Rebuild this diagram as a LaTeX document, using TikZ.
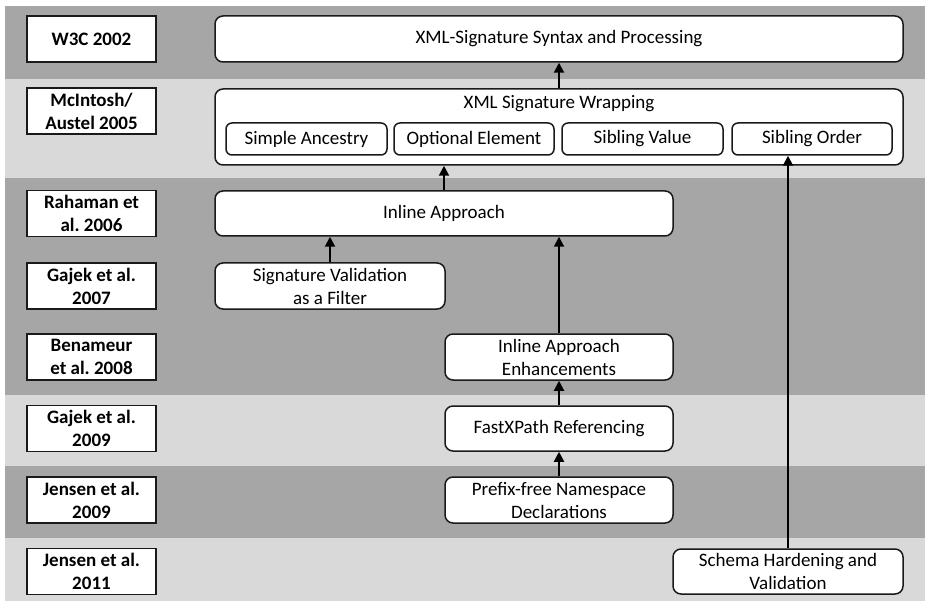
\documentclass[tikz,border=0pt]{standalone}
\usepackage{fontspec}
\setmainfont{Carlito}
\frenchspacing
\usetikzlibrary{arrows.meta}
\definecolor{bandd}{HTML}{A6A6A6}
\definecolor{bandl}{HTML}{D9D9D9}
\definecolor{ink}{HTML}{1A1A1A}
\tikzset{
  lbl/.style={draw=ink, line width=1.5pt, fill=white, align=center, inner sep=0pt,
    font=\fontsize{19}{23}\selectfont\bfseries\frenchspacing, minimum width=129pt, minimum height=46pt},
  mbox/.style={draw=ink, line width=1.5pt, fill=white, rounded corners=8pt, align=center, inner sep=0pt,
    font=\fontsize{19}{23}\selectfont, minimum height=46pt},
  sbox/.style={draw=ink, line width=1.5pt, fill=white, rounded corners=6pt, align=center, inner sep=0pt,
    font=\fontsize{19}{23}\selectfont, minimum height=32pt},
  arr/.style={draw=black, line width=2pt, -{Triangle[width=10pt,length=10pt]}}
}
\begin{document}
\begin{tikzpicture}[x=1pt,y=-1pt]
\useasboundingbox (0,0) rectangle (925,601);
% bands
\fill[bandd] (5,6) rectangle (925,79);
\fill[bandl] (5,79) rectangle (925,178);
\fill[bandd] (5,178) rectangle (925,395);
\fill[bandl] (5,395) rectangle (925,466);
\fill[bandd] (5,466) rectangle (925,538);
\fill[bandl] (5,538) rectangle (925,601);
% labels
\node[lbl] (l1) at (91.5,39) {W3C 2002};
\node[lbl] (l2) at (91.5,111) {McIntosh/\\Austel 2005};
\node[lbl] (l3) at (91.5,213.5) {Rahaman et\\al. 2006};
\node[lbl] (l4) at (91.5,286) {Gajek et al.\\2007};
\node[lbl] (l5) at (91.5,357) {Benameur\\et al. 2008};
\node[lbl] (l6) at (91.5,428.5) {Gajek et al.\\2009};
\node[lbl] (l7) at (91.5,500) {Jensen et al.\\2009};
\node[lbl] (l8) at (91.5,571.5) {Jensen et al.\\2011};
% main boxes
\node[mbox, minimum width=688pt] (syn) at (559,39) {XML-Signature Syntax and Processing};
\node[mbox, minimum width=688pt, minimum height=76pt] (wrap) at (559,127) {};
\node (wrapt) at (559,104) {\fontsize{19}{23}\selectfont XML Signature Wrapping};
\node[sbox, minimum width=161pt] (sa) at (306.5,139) {Simple Ancestry};
\node[sbox, minimum width=160pt] (oe) at (474,139) {Optional Element};
\node[sbox, minimum width=161pt] (sv) at (642.5,139) {Sibling Value};
\node[sbox, minimum width=160pt] (so) at (812,139) {Sibling Order};
\node[mbox, minimum width=458pt, minimum height=45pt] (inl) at (444,213.5) {Inline Approach};
\node[mbox, minimum width=230pt] (svf) at (330,286) {Signature Validation\\as a Filter};
\node[mbox, minimum width=228pt] (iae) at (559,357) {Inline Approach\\Enhancements};
\node[mbox, minimum width=228pt, minimum height=45pt] (fxp) at (559,428.5) {FastXPath Referencing};
\node[mbox, minimum width=228pt] (pfn) at (559,500) {Prefix-free Namespace\\Declarations};
\node[mbox, minimum width=230pt, minimum height=45pt] (shv) at (788,571.5) {Schema Hardening and\\Validation};
% arrows
\draw[arr] (wrap.north) -- (syn.south);
\draw[arr] (inl.north) -- (inl.north |- wrap.south);
\draw[arr] (svf.north) -- (svf.north |- inl.south);
\draw[arr] (iae.north) -- (iae.north |- inl.south);
\draw[arr] (fxp.north) -- (iae.south);
\draw[arr] (pfn.north) -- (fxp.south);
\draw[arr] (shv.north) -- (shv.north |- so.south);
\end{tikzpicture}
\end{document}
